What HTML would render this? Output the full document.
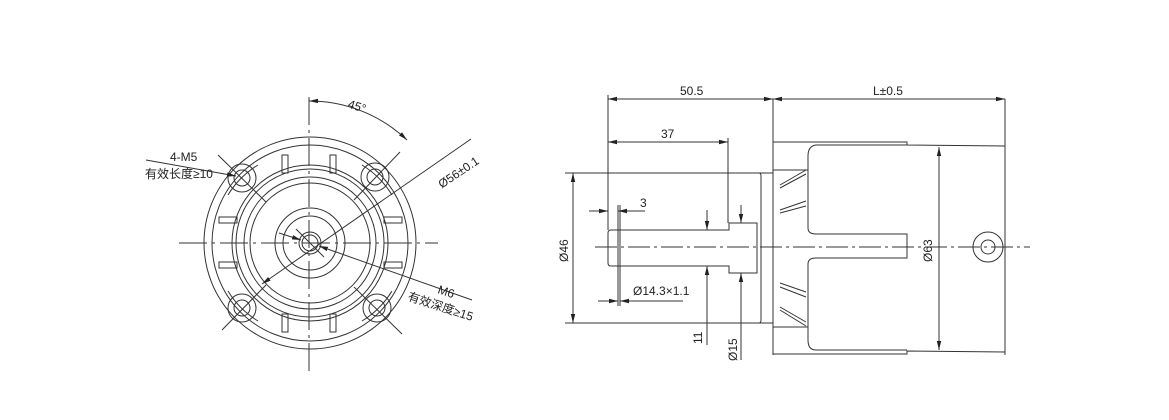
<!DOCTYPE html>
<html><head><meta charset="utf-8"><style>
html,body{margin:0;padding:0;background:#fff;width:1169px;height:420px;overflow:hidden}
svg text{font-family:"Liberation Sans","Noto Sans CJK SC",sans-serif;fill:#222}
</style></head><body>
<svg width="1169" height="420" viewBox="0 0 1169 420" xmlns="http://www.w3.org/2000/svg">
<defs>
<marker id="a" markerWidth="10" markerHeight="6" refX="9" refY="3" orient="auto-start-reverse" markerUnits="userSpaceOnUse"><path d="M0,0.8 L9,3 L0,5.2z" fill="#222"/></marker>
</defs>
<g fill="none" stroke="#333" stroke-width="1">
<!-- LEFT VIEW -->
<line x1="179" y1="243" x2="438" y2="243" stroke-dasharray="28,5,3,5"/>
<line x1="309" y1="97" x2="309" y2="373" stroke-dasharray="28,5,3,5"/>
<circle cx="310" cy="243" r="106"/>
<circle cx="310" cy="243" r="98"/>
<path d="M228,195 A90,90 0 0 1 258,165 M362,165 A90,90 0 0 1 392,195 M392,291 A90,90 0 0 1 362,321 M258,321 A90,90 0 0 1 228,291"/>
<circle cx="310" cy="243" r="78"/>
<circle cx="310" cy="243" r="74"/>
<circle cx="310" cy="243" r="66"/>
<circle cx="310" cy="243" r="60"/>
<circle cx="310" cy="243" r="35"/>
<circle cx="310" cy="243" r="27"/>
<circle cx="310" cy="243" r="11"/>
<circle cx="310" cy="243" r="8"/>
<circle cx="242" cy="178" r="14"/><circle cx="242" cy="178" r="8"/>
<circle cx="375" cy="177" r="14"/><circle cx="375" cy="177" r="8"/>
<circle cx="242" cy="308" r="14"/><circle cx="242" cy="308" r="8"/>
<circle cx="377" cy="308" r="14"/><circle cx="377" cy="308" r="8"/>
<rect x="282" y="155" width="6" height="18"/><rect x="330" y="155" width="6" height="18"/>
<rect x="282" y="314" width="6" height="18"/><rect x="330" y="314" width="6" height="18"/>
<rect x="219" y="217" width="18" height="6"/><rect x="219" y="262" width="18" height="6"/>
<rect x="384" y="217" width="18" height="6"/><rect x="384" y="262" width="18" height="6"/>
<!-- diagonal centre lines through bolt holes -->
<line x1="218" y1="155" x2="266" y2="202"/>
<line x1="400" y1="152" x2="354" y2="200"/>
<line x1="222" y1="330" x2="266" y2="285"/>
<line x1="402" y1="334" x2="354" y2="287"/>
<line x1="296" y1="229" x2="324" y2="257"/>
<!-- 45 deg -->
<path d="M309,101 A142,142 0 0 1 407,140" marker-start="url(#a)" marker-end="url(#a)"/>
<!-- leaders -->
<line x1="146" y1="160" x2="236" y2="176" marker-end="url(#a)"/>
<line x1="471" y1="139" x2="262" y2="284" marker-end="url(#a)"/>
<line x1="279" y1="233" x2="301" y2="240" marker-end="url(#a)"/>
<line x1="472" y1="300" x2="319" y2="246" marker-end="url(#a)"/>

<!-- RIGHT VIEW -->
<line x1="595" y1="247" x2="1030" y2="247" stroke-dasharray="22,4,3,4"/>
<path d="M611,230 L729,230 L729,223 L757,223 L757,273 L729,273 L729,266 L611,266 Q608,266 608,263 L608,233 Q608,230 611,230z"/>
<line x1="618" y1="205" x2="618" y2="306"/><line x1="620" y1="205" x2="620" y2="306"/>
<path d="M757,173 L759,173 Q761,173 761,176 L761,320 Q761,323 759,323 L757,323"/>
<line x1="565" y1="173" x2="773" y2="173"/>
<line x1="565" y1="323" x2="773" y2="323"/>
<path d="M773,99 L773,355"/>
<path d="M773,142 L907,142 L907,145 L1005,146"/>
<path d="M773,170 L808,170"/>
<path d="M773,327 L808,327"/>
<path d="M773,354 L907,354 L907,351 L1005,352"/>
<line x1="1005" y1="99" x2="1005" y2="355"/>
<path d="M907,145 L816,145 Q808,146 808,156 L808,228 Q808,234 816,234 L907,234 L907,258 L816,258 Q808,258 808,264 L808,340 Q808,350 816,350 L907,350"/>
<path d="M780,185 L806,170 M780,188 L806,174 M780,210 L806,201 M780,213 L806,206"/>
<path d="M780,283 L806,292 M780,287 L806,297 M780,307 L806,322 M780,310 L806,326"/>
<line x1="939" y1="147" x2="939" y2="350" marker-start="url(#a)" marker-end="url(#a)"/>
<circle cx="988" cy="247" r="15"/><circle cx="988" cy="247" r="7"/>
<line x1="608" y1="95" x2="608" y2="230"/>
<line x1="608" y1="99" x2="773" y2="99" marker-start="url(#a)" marker-end="url(#a)"/>
<line x1="773" y1="99" x2="1005" y2="99" marker-start="url(#a)" marker-end="url(#a)"/>
<line x1="728" y1="138" x2="728" y2="223"/>
<line x1="608" y1="142" x2="728" y2="142" marker-start="url(#a)" marker-end="url(#a)"/>
<line x1="573" y1="173" x2="573" y2="323" marker-start="url(#a)" marker-end="url(#a)"/>
<line x1="589" y1="211" x2="608" y2="211" marker-end="url(#a)"/>
<line x1="645" y1="211" x2="618" y2="211" marker-end="url(#a)"/>
<line x1="598" y1="301" x2="618" y2="301" marker-end="url(#a)"/>
<line x1="683" y1="301" x2="620" y2="301" marker-end="url(#a)"/>
<line x1="707" y1="210" x2="707" y2="230" marker-end="url(#a)"/>
<line x1="707" y1="345" x2="707" y2="266" marker-end="url(#a)"/>
<line x1="741" y1="205" x2="741" y2="223" marker-end="url(#a)"/>
<line x1="741" y1="360" x2="741" y2="273" marker-end="url(#a)"/>
</g>
<g font-size="12">
<text x="348" y="110" transform="rotate(18 356 106)">45°</text>
<text x="170" y="161">4-M5</text>
<text x="145" y="178">有效长度≥10</text>
<text x="430" y="180" transform="rotate(-34 450 165)">Ø56±0.1</text>
<text x="437" y="293" transform="rotate(18 437 293)">M6</text>
<text x="407" y="300" transform="rotate(18 407 300)">有效深度≥15</text>
<text x="680" y="95">50.5</text>
<text x="873" y="95">L±0.5</text>
<text x="661" y="138">37</text>
<text x="640" y="207">3</text>
<text x="633" y="295">Ø14.3×1.1</text>
<text transform="translate(568,262) rotate(-90)">Ø46</text>
<text transform="translate(932,262) rotate(-90)">Ø63</text>
<text transform="translate(702,344) rotate(-90)">11</text>
<text transform="translate(737,361) rotate(-90)">Ø15</text>
</g>
</svg>
</body></html>
